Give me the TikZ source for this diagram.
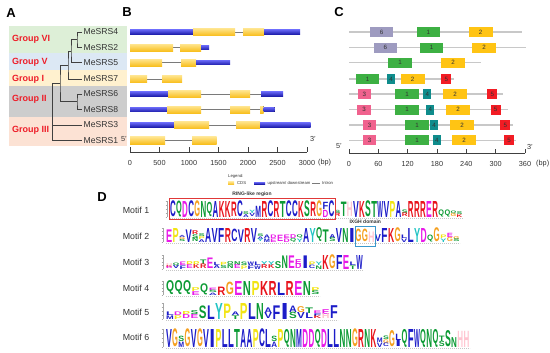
\documentclass[tikz,border=0pt]{standalone}
\usepackage{fontspec}
\setmainfont{Liberation Sans}
\usepackage{graphicx}
% group bands
\definecolor{gVI}{HTML}{DDEFD7}
\definecolor{gV}{HTML}{DCE8F4}
\definecolor{gI}{HTML}{FFF1CF}
\definecolor{gII}{HTML}{CDCDCD}
\definecolor{gIII}{HTML}{FCE2D4}
\definecolor{grpred}{HTML}{EE1D28}
\definecolor{treec}{HTML}{404040}
\definecolor{txtc}{HTML}{333333}
% gene structure
\definecolor{utrT}{HTML}{6464F2}
\definecolor{utrB}{HTML}{1C1CAA}
\definecolor{cdsT}{HTML}{FFE48C}
\definecolor{cdsB}{HTML}{F8BE1C}
\definecolor{intronC}{HTML}{7A7A7A}
% motif boxes
\definecolor{c1}{HTML}{3DB043}
\definecolor{c2}{HTML}{FFC414}
\definecolor{c3}{HTML}{F0628E}
\definecolor{c4}{HTML}{0F8C8C}
\definecolor{c5}{HTML}{F21C24}
\definecolor{c6}{HTML}{9E9BC0}
\definecolor{clineC}{HTML}{C8C8C8}
% amino acid colours
\definecolor{aablue}{HTML}{1C1CC8}
\definecolor{aagreen}{HTML}{0C9A34}
\definecolor{aamag}{HTML}{E81AE8}
\definecolor{aared}{HTML}{E8141C}
\definecolor{aaorange}{HTML}{F5A020}
\definecolor{aayellow}{HTML}{F2E414}
\definecolor{aacyan}{HTML}{22C4C4}
\definecolor{aapink}{HTML}{FFC4D0}
\colorlet{aaA}{aablue}\colorlet{aaC}{aablue}\colorlet{aaF}{aablue}
\colorlet{aaI}{aablue}\colorlet{aaL}{aablue}\colorlet{aaM}{aablue}
\colorlet{aaV}{aablue}\colorlet{aaW}{aablue}
\colorlet{aaN}{aagreen}\colorlet{aaQ}{aagreen}\colorlet{aaS}{aagreen}\colorlet{aaT}{aagreen}
\colorlet{aaD}{aamag}\colorlet{aaE}{aamag}
\colorlet{aaK}{aared}\colorlet{aaR}{aared}
\colorlet{aaG}{aaorange}\colorlet{aaP}{aayellow}\colorlet{aaY}{aacyan}\colorlet{aaH}{aapink}
\definecolor{ringred}{HTML}{E03838}
\definecolor{ixghblue}{HTML}{3A98CC}

\newcommand\fsz[1]{\fontsize{#1}{#1}\selectfont}

% ---- sequence logo helpers ----
\newcount\lgnum
\newcommand\lgstart[4]{\xdef\lgx{#1}\xdef\lgbase{#2}\xdef\lgH{#3}\xdef\lgw{#4}%
  \pgfmathsetmacro\lgtmp{#4*0.94}\xdef\lgww{\lgtmp}}
\def\lgcount#1{\ifx\relax#1\let\lgnext\relax\else\advance\lgnum by 1 \let\lgnext\lgcount\fi\lgnext}
\def\lgplace#1{\ifx\relax#1\let\lgnext\relax\else\def\lgnext{\lgput{#1}\lgplace}\fi\lgnext}
\newcommand\lgput[1]{\pgfmathsetmacro\lgtmp{\lgy+\lgh}\xdef\lgyb{\lgtmp}%
  \node[logoletter, text=aa#1] at (\lgx,\lgyb) {\resizebox*{\lgww pt}{\lgh pt}{\bfseries #1}};%
  \xdef\lgy{\lgyb}}
\newcommand\lgc[2]{\lgnum=0 \lgcount#1\relax
  \pgfmathsetmacro\lgtmp{\lgH*#2/\the\lgnum}\xdef\lgh{\lgtmp}%
  \pgfmathsetmacro\lgtmp{\lgbase-\lgH*#2}\xdef\lgy{\lgtmp}%
  \lgplace#1\relax
  \pgfmathsetmacro\lgtmp{\lgx+\lgw}\xdef\lgx{\lgtmp}}
\newcommand\lgaxis[4]{% x0, xend, base, H
  \draw[logoax] (#1-3,#3) -- (#1-3,#3-#4);
  \foreach \t in {0,0.25,0.5,0.75,1} {\draw[logoax] (#1-4.5,#3-#4*\t) -- (#1-3,#3-#4*\t);}
  \draw[logobase] (#1,#3+1.2) -- (#2,#3+1.2);}

% ---- gene structure helpers ----
\newcommand\butr[3]{\fill[utr] (#1,#3-2.3) rectangle (#2,#3+2.3);}
\newcommand\bcds[3]{\fill[cds] (#1,#3-3.6) rectangle (#2,#3+3.6);}
\newcommand\bline[3]{\draw[intron] (#1,#3) -- (#2,#3);}

% ---- motif box helper ----
\newcount\mbn
\newcommand\mb[3]{\global\advance\mbn by 1
  \node[mbox, mt#1] (mb\the\mbn) at (#2,#3) {#1};}
\newcommand\cl[2]{\draw[cline] (349,#2) -- (#1,#2);}

\begin{document}
\begin{tikzpicture}[x=1pt,y=-1pt,
  plabel/.style={font=\fsz{13}\bfseries, text=black, inner sep=0},
  grp/.style={font=\fsz{9}\bfseries, text=grpred, anchor=west, inner sep=0},
  lbl/.style={font=\fsz{8.6}, text=txtc, anchor=west, inner sep=1.5pt},
  treeline/.style={draw=treec, line width=0.7pt},
  utr/.style={top color=utrT, bottom color=utrB},
  cds/.style={top color=cdsT, bottom color=cdsB},
  intron/.style={draw=intronC, line width=0.8pt},
  axisline/.style={draw=treec, line width=0.8pt},
  ticklbl/.style={font=\fsz{7.3}, text=txtc, inner sep=0},
  leg/.style={font=\fsz{4.2}, text=txtc, anchor=west, inner sep=0},
  cline/.style={draw=clineC, line width=1.4pt},
  mbox/.style={minimum height=10pt, inner sep=0, font=\fsz{6.2}, text=txtc},
  mt1/.style={fill=c1, minimum width=23.5pt},
  mt2/.style={fill=c2, minimum width=24pt},
  mt3/.style={fill=c3, minimum width=13.5pt},
  mt4/.style={fill=c4, minimum width=8pt},
  mt5/.style={fill=c5, minimum width=10pt},
  mt6/.style={fill=c6, minimum width=23.5pt},
  motif/.style={font=\fsz{8.8}, text=txtc, inner sep=0},
  logoletter/.style={anchor=south west, inner sep=0pt, outer sep=0pt},
  logoax/.style={draw=gray!70, line width=0.3pt},
  logobase/.style={draw=gray!45, line width=0.9pt, dash pattern=on 0.4pt off 1.6pt},
  small/.style={font=\fsz{5}\bfseries, text=txtc, inner sep=0}
]
\useasboundingbox (0,0) rectangle (550,353);

%================ Panel A ================
\node[plabel] (pA) at (11,13) {A};
\fill[gVI]  (9,26)  rectangle (127,53);
\fill[gV]   (9,53)  rectangle (127,70);
\fill[gI]   (9,70)  rectangle (127,86.5);
\fill[gII]  (9,86.5) rectangle (127,117);
\fill[gIII] (9,117) rectangle (127,146);

\node[grp] (gA) at (12,39.5) {Group VI};
\node[grp] (gB) at (12,62) {Group V};
\node[grp] (gC) at (12,79) {Group I};
\node[grp] (gD) at (12,99.5) {Group II};
\node[grp] (gE) at (12,130) {Group III};

\coordinate (l4) at (82,32);
\coordinate (l2) at (82,47.7);
\coordinate (l5) at (82,62.7);
\coordinate (l7) at (82,79);
\coordinate (l6) at (82,94);
\coordinate (l8) at (82,109.7);
\coordinate (l3) at (82,125);
\coordinate (l1) at (82,140.5);
\coordinate (n42) at (77,39.85);
\coordinate (n425) at (71,51.3);
\coordinate (n4257) at (68,65.2);
\coordinate (n68) at (77,101.85);
\coordinate (nA) at (60,83.5);
\coordinate (root) at (52,83.5);
\draw[treeline] (l4) -| (n42) |- (l2);
\draw[treeline] (n42) -| (n425) |- (l5);
\draw[treeline] (n425) -| (n4257) |- (l7);
\draw[treeline] (l6) -| (n68) |- (l8);
\draw[treeline] (n4257) -| (nA) |- (n68);
\draw[treeline] (nA) -- (root) |- (l1);
\draw[treeline] (root |- l3) -- (l3);

\node[lbl] (t4) at (l4) {MeSRS4};
\node[lbl] (t2) at (l2) {MeSRS2};
\node[lbl] (t5) at (l5) {MeSRS5};
\node[lbl] (t7) at (l7) {MeSRS7};
\node[lbl] (t6) at (l6) {MeSRS6};
\node[lbl] (t8) at (l8) {MeSRS8};
\node[lbl] (t3) at (l3) {MeSRS3};
\node[lbl] (t1) at (l1) {MeSRS1};

%================ Panel B ================
\node[plabel] (pB) at (127,12) {B};
% MeSRS4
\bline{130}{300}{32}
\butr{130}{193}{32}\bcds{193}{235}{32}\bcds{243}{264}{32}\butr{264}{300}{32}
% MeSRS2
\bline{130}{209}{47.7}
\bcds{130}{173}{47.7}\bcds{180}{201}{47.7}\butr{201}{209}{47.7}
% MeSRS5
\bline{130}{230}{62.7}
\bcds{130}{162}{62.7}\bcds{181}{196}{62.7}\butr{196}{230}{62.7}
% MeSRS7
\bline{130}{182}{79}
\bcds{130}{147}{79}\bcds{162}{182}{79}
% MeSRS6
\bline{130}{283}{94}
\butr{130}{168}{94}\bcds{168}{201}{94}\bcds{230}{250}{94}\butr{261}{283}{94}
% MeSRS8
\bline{130}{274.5}{109.7}
\butr{130}{167}{109.7}\bcds{167}{201}{109.7}\bcds{230}{250}{109.7}\bcds{260}{263.5}{109.7}\butr{263.5}{274.5}{109.7}
% MeSRS3
\bline{130}{310.7}{125}
\butr{130}{174}{125}\bcds{174}{209}{125}\bcds{236}{260}{125}\butr{260}{310.7}{125}
% MeSRS1
\bline{130}{216.7}{140.5}
\bcds{130}{165}{140.5}\bcds{192}{216.7}{140.5}

% axis B
\node[ticklbl] (b5) at (124,139) {5'};
\node[ticklbl] (b3) at (313,139) {3'};
\draw[axisline] (130,152) -- (307,152);
\foreach \i/\t in {0/0,1/500,2/1000,3/1500,4/2000,5/2500,6/3000} {
  \draw[axisline] (130+\i*29.5,152) -- (130+\i*29.5,147.5);
  \node[ticklbl] (bt\i) at (130+\i*29.5,163) {\t};
}
\node[ticklbl, anchor=west] (bbp) at (318,163) {(bp)};

% legend
\node[leg] (lg) at (228,176) {Legend:};
\fill[cds] (228,181.6) rectangle (234,184.6);
\node[leg] (lgc) at (237,183.1) {CDS};
\fill[utr] (254,182.1) rectangle (265,184.1);
\node[leg] (lgu) at (267.5,183.1) {upstream/ downstream};
\draw[intron, line width=0.5pt] (312,183.1) -- (320,183.1);
\node[leg] (lgi) at (322,183.1) {Intron};

%================ Panel C ================
\node[plabel] (pC) at (339,12) {C};
\cl{522}{32}\cl{526}{47.7}\cl{481}{62.7}\cl{454}{79}\cl{503}{94}\cl{508}{109.7}\cl{513}{125}\cl{516}{140.5}
% row 1
\mb{6}{381.7}{32}\mb{1}{428.3}{32}\mb{2}{480.7}{32}
% row 2
\mb{6}{385.3}{47.7}\mb{1}{431.7}{47.7}\mb{2}{484}{47.7}
% row 3
\mb{1}{400}{62.7}\mb{2}{453}{62.7}
% row 4
\mb{1}{367.7}{79}\mb{4}{391}{79}\mb{2}{412.7}{79}\mb{5}{446.3}{79}
% row 5
\mb{3}{364.3}{94}\mb{1}{407}{94}\mb{4}{427.3}{94}\mb{2}{455}{94}\mb{5}{492.3}{94}
% row 6
\mb{3}{364}{109.7}\mb{1}{407}{109.7}\mb{4}{430.3}{109.7}\mb{2}{458}{109.7}\mb{5}{495.7}{109.7}
% row 7
\mb{3}{369.5}{125}\mb{1}{417}{125}\mb{4}{434.2}{125}\mb{2}{462}{125}\mb{5}{505.3}{125}
% row 8
\mb{3}{369.5}{140.5}\mb{1}{417}{140.5}\mb{4}{436.8}{140.5}\mb{2}{464}{140.5}\mb{5}{509}{140.5}

% axis C
\node[ticklbl] (c5) at (339,146.5) {5'};
\node[ticklbl] (c3) at (530,146.5) {3'};
\draw[axisline] (349,153.3) -- (525,153.3);
\foreach \i/\t in {0/0,1/60,2/120,3/180,4/240,5/300,6/360} {
  \draw[axisline] (349+\i*29.33,153.3) -- (349+\i*29.33,148.8);
  \node[ticklbl] (ct\i) at (349+\i*29.33,163.5) {\t};
}
\node[ticklbl, anchor=west] (cbp) at (536,163.5) {(bp)};

%================ Panel D ================
\node[plabel] (pD) at (102,197) {D};
\node[motif] (m1) at (136,210) {Motif 1};
\node[motif] (m2) at (136,236) {Motif 2};
\node[motif] (m3) at (136,262.5) {Motif 3};
\node[motif] (m4) at (136,288) {Motif 4};
\node[motif] (m5) at (136,312) {Motif 5};
\node[motif] (m6) at (136,337.5) {Motif 6};

% Motif 1
\lgaxis{170}{463}{217}{16}
\lgstart{170}{217}{16}{6.1}
\lgc{C}{1}\lgc{Q}{1}\lgc{D}{1}\lgc{C}{1}\lgc{G}{1}\lgc{N}{1}\lgc{Q}{0.9}\lgc{A}{1}\lgc{K}{1}\lgc{K}{1}\lgc{R}{0.9}\lgc{C}{1}%
\lgc{SA}{0.35}\lgc{YV}{0.4}\lgc{M}{0.7}\lgc{R}{1}\lgc{C}{1}\lgc{R}{1}\lgc{T}{1}\lgc{C}{1}\lgc{C}{1}\lgc{K}{1}\lgc{S}{1}%
\lgc{R}{0.9}\lgc{G}{1}\lgc{FD}{0.9}\lgc{C}{1}\lgc{SR}{0.4}\lgc{T}{0.9}\lgc{H}{0.9}\lgc{V}{1}\lgc{K}{1}\lgc{S}{1}\lgc{T}{1}%
\lgc{W}{1}\lgc{V}{1}\lgc{P}{1}\lgc{A}{1}\lgc{SR}{0.45}\lgc{R}{1}\lgc{R}{1}\lgc{R}{1}\lgc{E}{1}\lgc{R}{1}\lgc{Q}{0.45}%
\lgc{Q}{0.45}\lgc{QG}{0.4}\lgc{SK}{0.35}
\draw[ringred, line width=0.6pt] (169,198.5) rectangle (335.2,219.5);
\node[small] (ring) at (252,194) {RING-like region};

% Motif 2
\lgaxis{166}{460}{242}{14}
\lgstart{166}{242}{14}{6.53}
\lgc{E}{0.9}\lgc{P}{1}\lgc{AGS}{0.45}\lgc{V}{0.9}\lgc{RSN}{0.8}\lgc{SPA}{0.6}\lgc{A}{1}\lgc{V}{1}\lgc{F}{1}\lgc{R}{1}%
\lgc{C}{0.9}\lgc{V}{0.9}\lgc{R}{1}\lgc{V}{1}\lgc{SAY}{0.55}\lgc{AM}{0.5}\lgc{DE}{0.5}\lgc{E}{0.45}\lgc{ED}{0.5}%
\lgc{DQ}{0.55}\lgc{QY}{0.5}\lgc{A}{1}\lgc{Y}{1}\lgc{Q}{1}\lgc{T}{0.9}\lgc{AS}{0.55}\lgc{V}{1}\lgc{N}{1}\lgc{I}{1}%
\lgc{G}{0.9}\lgc{G}{0.9}\lgc{H}{0.75}\lgc{V}{0.5}\lgc{F}{1}\lgc{K}{1}\lgc{G}{1}\lgc{LV}{0.5}\lgc{L}{1}\lgc{Y}{1}%
\lgc{D}{1}\lgc{Q}{0.5}\lgc{G}{1}\lgc{PY}{0.5}\lgc{EG}{0.6}\lgc{GS}{0.4}
\draw[ixghblue, line width=0.6pt] (355.2,226.7) rectangle (375.4,246.7);
\node[small] (ixgh) at (365.3,222) {IXGH domain};

% Motif 3
\lgaxis{166}{363}{269}{14}
\lgstart{166}{269}{14}{6.8}
\lgc{HKD}{0.4}\lgc{QV}{0.45}\lgc{EF}{0.5}\lgc{PE}{0.55}\lgc{PK}{0.55}\lgc{TR}{0.65}\lgc{E}{0.75}\lgc{LA}{0.45}%
\lgc{PS}{0.45}\lgc{QN}{0.55}\lgc{NE}{0.55}\lgc{SP}{0.5}\lgc{WF}{0.5}\lgc{LW}{0.5}\lgc{YR}{0.55}\lgc{YK}{0.55}%
\lgc{S}{0.5}\lgc{N}{0.9}\lgc{E}{0.9}\lgc{ED}{0.7}\lgc{I}{0.9}\lgc{PC}{0.5}\lgc{YN}{0.5}\lgc{K}{1}\lgc{G}{1}%
\lgc{F}{1}\lgc{E}{1}\lgc{LT}{0.5}\lgc{W}{1}

% Motif 4
\lgaxis{166}{320}{295}{14}
\lgstart{166}{295}{14}{8.55}
\lgc{Q}{1}\lgc{Q}{1}\lgc{Q}{1}\lgc{PE}{0.55}\lgc{Q}{0.8}\lgc{ESA}{0.5}\lgc{R}{0.6}\lgc{G}{0.9}\lgc{E}{1}%
\lgc{N}{1}\lgc{P}{1}\lgc{K}{1}\lgc{R}{1}\lgc{L}{0.9}\lgc{R}{1}\lgc{E}{1}\lgc{N}{1}\lgc{PS}{0.55}

% Motif 5
\lgaxis{166}{338}{319}{16}
\lgstart{166}{319}{16}{8.2}
\lgc{LM}{0.45}\lgc{DP}{0.45}\lgc{PD}{0.5}\lgc{SE}{0.5}\lgc{S}{0.8}\lgc{L}{0.85}\lgc{Y}{1}\lgc{P}{0.9}%
\lgc{AT}{0.45}\lgc{P}{1}\lgc{L}{1}\lgc{N}{1}\lgc{AV}{0.7}\lgc{F}{0.85}\lgc{I}{1}\lgc{AS}{0.8}\lgc{GV}{0.75}%
\lgc{TL}{0.7}\lgc{EFK}{0.5}\lgc{EH}{0.6}\lgc{F}{0.8}

% Motif 6
\lgaxis{166}{470}{347}{18}
\lgstart{166}{347}{18}{6.2}
\lgc{V}{1}\lgc{G}{1}\lgc{SM}{0.6}\lgc{G}{1}\lgc{V}{1}\lgc{G}{1}\lgc{V}{1}\lgc{I}{1}\lgc{P}{1}\lgc{L}{1}\lgc{L}{1}%
\lgc{T}{1}\lgc{A}{1}\lgc{A}{1}\lgc{P}{1}\lgc{C}{1}\lgc{L}{1}\lgc{SA}{0.6}\lgc{P}{1}\lgc{Q}{1}\lgc{N}{1}\lgc{M}{1}%
\lgc{D}{1}\lgc{D}{1}\lgc{Q}{1}\lgc{D}{1}\lgc{L}{1}\lgc{L}{1}\lgc{N}{1}\lgc{N}{1}\lgc{G}{1}\lgc{R}{1}\lgc{N}{1}%
\lgc{K}{1}\lgc{MV}{0.5}\lgc{SGC}{0.6}\lgc{G}{0.9}\lgc{LI}{0.7}\lgc{Q}{1}\lgc{F}{1}\lgc{W}{1}\lgc{Q}{1}\lgc{N}{1}%
\lgc{Q}{1}\lgc{TS}{0.6}\lgc{S}{0.9}\lgc{N}{0.55}\lgc{H}{0.9}\lgc{H}{0.9}
\end{tikzpicture}
\end{document}
